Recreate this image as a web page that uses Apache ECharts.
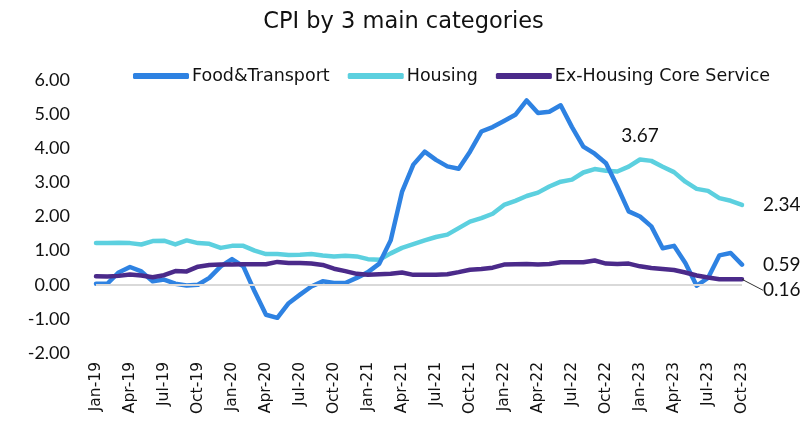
<!DOCTYPE html>
<html>
<head>
<meta charset="utf-8">
<script src="https://cdn.jsdelivr.net/npm/echarts@6/dist/echarts.min.js"></script>
<style>
  html, body { margin: 0; padding: 0; background: #fff; }
  #chart { width: 807px; height: 426px; }
</style>
</head>
<body>
<div id="chart"></div>
<script>
var months = [
	"Jan-19", "Feb-19", "Mar-19", "Apr-19", "May-19", "Jun-19", "Jul-19", "Aug-19", "Sep-19", "Oct-19", "Nov-19", "Dec-19",
	"Jan-20", "Feb-20", "Mar-20", "Apr-20", "May-20", "Jun-20", "Jul-20", "Aug-20", "Sep-20", "Oct-20", "Nov-20", "Dec-20",
	"Jan-21", "Feb-21", "Mar-21", "Apr-21", "May-21", "Jun-21", "Jul-21", "Aug-21", "Sep-21", "Oct-21", "Nov-21", "Dec-21",
	"Jan-22", "Feb-22", "Mar-22", "Apr-22", "May-22", "Jun-22", "Jul-22", "Aug-22", "Sep-22", "Oct-22", "Nov-22", "Dec-22",
	"Jan-23", "Feb-23", "Mar-23", "Apr-23", "May-23", "Jun-23", "Jul-23", "Aug-23", "Sep-23", "Oct-23"
];

var foodTransport = [
	0.03, 0.03, 0.36, 0.52, 0.39, 0.10, 0.15, 0.03, -0.02, 0.00, 0.20, 0.54,
	0.75, 0.54, -0.20, -0.88, -0.97, -0.54, -0.29, -0.05, 0.10, 0.05, 0.05, 0.20,
	0.37, 0.62, 1.30, 2.72, 3.52, 3.90, 3.66, 3.47, 3.40, 3.90, 4.49, 4.62,
	4.80, 4.98, 5.40, 5.03, 5.07, 5.26, 4.62, 4.05, 3.84, 3.56, 2.88, 2.15,
	2.00, 1.71, 1.07, 1.14, 0.64, -0.03, 0.20, 0.86, 0.93, 0.59
];

var housing = [
	1.22, 1.22, 1.23, 1.22, 1.18, 1.28, 1.29, 1.18, 1.30, 1.22, 1.20, 1.08,
	1.14, 1.14, 1.00, 0.90, 0.90, 0.87, 0.88, 0.90, 0.86, 0.83, 0.85, 0.83,
	0.75, 0.73, 0.92, 1.08, 1.19, 1.30, 1.40, 1.47, 1.66, 1.85, 1.95, 2.08,
	2.34, 2.46, 2.60, 2.70, 2.88, 3.02, 3.08, 3.29, 3.39, 3.34, 3.32, 3.46,
	3.67, 3.63, 3.46, 3.30, 3.02, 2.81, 2.75, 2.54, 2.46, 2.34
];

var exHousingCore = [
	0.25, 0.24, 0.26, 0.30, 0.27, 0.22, 0.28, 0.40, 0.39, 0.53, 0.58, 0.59,
	0.59, 0.60, 0.60, 0.60, 0.67, 0.64, 0.64, 0.62, 0.58, 0.47, 0.40, 0.32,
	0.29, 0.31, 0.32, 0.36, 0.29, 0.29, 0.29, 0.31, 0.37, 0.44, 0.46, 0.50,
	0.59, 0.60, 0.61, 0.59, 0.61, 0.66, 0.66, 0.66, 0.71, 0.62, 0.61, 0.62,
	0.54, 0.49, 0.46, 0.43, 0.36, 0.27, 0.21, 0.16, 0.16, 0.16
];

var yTicks = [-2, -1, 0, 1, 2, 3, 4, 5, 6];

var font = "DejaVu Sans";
var numFont = "Lato";
var last = months.length - 1;

// only a few points carry a value label
function withLabels(values, labelled) {
	return values.map(function (v, i) {
		if (labelled[i]) {
			return { value: v, label: Object.assign({ show: true }, labelled[i]) };
		}
		return v;
	});
}

function peakIndex(values) {
	var best = 0;
	for (var i = 1; i < values.length; i++) {
		if (values[i] > values[best]) best = i;
	}
	return best;
}

var chart = echarts.init(document.getElementById("chart"));

var valueLabel = {
	show: false,
	color: "#111",
	fontSize: 19,
	fontFamily: numFont,
	formatter: function (p) { return p.value.toFixed(2); }
};

var housingLabels = {};
housingLabels[last] = { position: "right", distance: 21 };
housingLabels[peakIndex(housing)] = { position: "top", distance: 14 };

var foodLabels = {};
foodLabels[last] = { position: "right", distance: 21 };

var coreLabels = {};
coreLabels[last] = { position: "right", distance: 21 };

// tiny invisible symbols so the value labels have something to hang on
function lineSeries(name, values, labelled, color, z) {
	return {
		name: name,
		type: "line",
		data: withLabels(values, labelled),
		showSymbol: true,
		showAllSymbol: true,
		symbol: "circle",
		symbolSize: 0.1,
		z: z,
		color: color,
		itemStyle: { color: color },
		lineStyle: { width: 4.5, color: color, cap: "round", join: "round" },
		label: valueLabel
	};
}

var foodSeries = lineSeries("Food&Transport", foodTransport, foodLabels, "#2E82E2", 3);
foodSeries.markLine = {
	silent: true,
	symbol: "none",
	label: { show: false },
	lineStyle: { color: "#d9d9d9", width: 2, type: "solid" },
	data: [{ yAxis: 0 }]
};

var housingSeries = lineSeries("Housing", housing, housingLabels, "#5CD0DF", 2);

var coreSeries = lineSeries("Ex-Housing Core Service", exHousingCore, coreLabels, "#4B2A8A", 4);
coreSeries.labelLine = { show: true, lineStyle: { color: "#333", width: 1 } };
coreSeries.labelLayout = function (p) {
	if (p.dataIndex === last) {
		return { dy: 11 };
	}
};

var option = {
	backgroundColor: "#fff",
	animation: false,
	title: {
		text: "CPI by 3 main categories",
		left: "center",
		top: 6,
		textStyle: { fontFamily: font, fontSize: 22.5, fontWeight: "normal", color: "#111" }
	},
	legend: {
		top: 62,
		left: 128,
		itemWidth: 56,
		itemHeight: 6,
		itemGap: 18,
		icon: "roundRect",
		textStyle: { fontFamily: font, fontSize: 17.5, color: "#111", padding: [0, 0, 0, -2] },
		data: ["Food&Transport", "Housing", "Ex-Housing Core Service"]
	},
	grid: { left: 96, right: 65, top: 80, bottom: 73 },
	xAxis: {
		type: "category",
		data: months,
		boundaryGap: false,
		axisLine: { show: false },
		axisTick: { show: false },
		axisLabel: {
			interval: 2,
			rotate: 90,
			margin: 9,
			fontFamily: font,
			fontSize: 15.5,
			color: "#111"
		},
		splitLine: { show: false }
	},
	yAxis: {
		type: "value",
		min: yTicks[0],
		max: yTicks[yTicks.length - 1],
		interval: 1,
		axisLine: { show: false },
		axisTick: { show: false },
		splitLine: { show: false },
		axisLabel: {
			margin: 26,
			fontFamily: numFont,
			fontSize: 18,
			color: "#111",
			formatter: function (v) { return v.toFixed(2); }
		}
	},
	series: [foodSeries, housingSeries, coreSeries]
};

chart.setOption(option);
</script>
</body>
</html>
